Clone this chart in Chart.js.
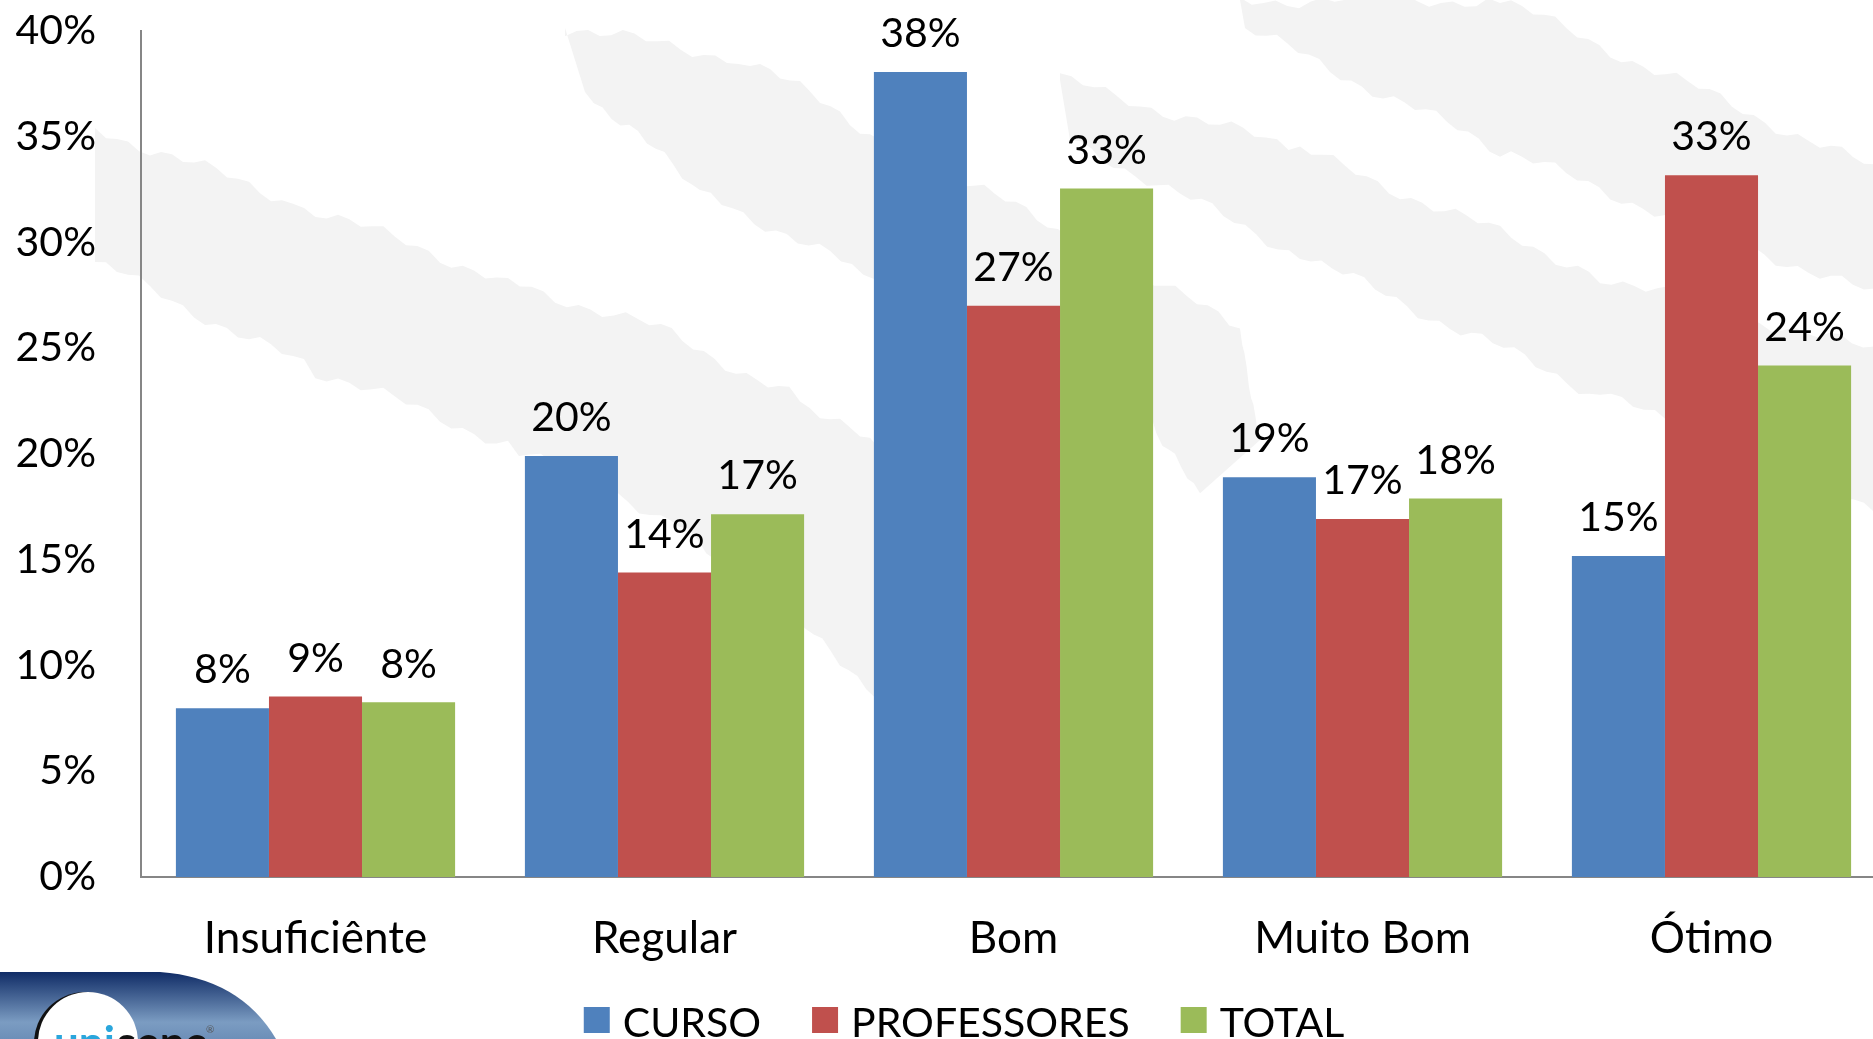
<!DOCTYPE html>
<html>
<head>
<meta charset="utf-8">
<script src="https://cdn.jsdelivr.net/npm/chart.js@4/dist/chart.umd.min.js"></script>
<style>
  html, body { margin: 0; padding: 0; background: #fff; overflow: hidden; }
  /* o gráfico original continua um pouco além da borda direita */
  #wrap { position: relative; width: 1886px; height: 1039px; }
</style>
</head>
<body>
<div id="wrap"><canvas id="grafico"></canvas></div>
<script>
// categorias e séries (valores em %)
const categorias = ["Insuficiênte", "Regular", "Bom", "Muito Bom", "Ótimo"];
const curso = [7.98, 19.9, 38.06, 18.9, 15.18];
const professores = [8.54, 14.4, 27.01, 16.93, 33.18];
const total = [8.26, 17.15, 32.55, 17.9, 24.19];
const nomesSeries = ["CURSO", "PROFESSORES", "TOTAL"];
const cores = ["#4F81BD", "#C0504D", "#9BBB59"];

const FONTE = "Lato";
const TAM = 41;
const TAM_CAT = 44;

// manchas do fundo (borda de cima e borda de baixo de cada faixa)
const manchas = [
  { cima: [[95,128],[304,206],[508,281],[661,330],[800,400],[880,450]],
    baixo: [[95,262],[304,366],[508,444],[661,515],[770,600],[875,690]] },
  { cima: [[565,28],[750,60],[900,150],[1100,250],[1240,330],[1260,440]],
    baixo: [[585,92],[700,190],[852,268],[1000,330],[1150,420],[1200,500]] },
  { cima: [[1060,80],[1300,150],[1600,275],[1886,355]],
    baixo: [[1070,140],[1300,255],[1600,395],[1886,510]] },
  { cima: [[1240,0],[1500,0],[1886,175]],
    baixo: [[1245,28],[1500,150],[1886,300]] }
];

function bordaIrregular(ctx, pts, fase) {
  for (let k = 0; k < pts.length - 1; k++) {
    const [x1, y1] = pts[k], [x2, y2] = pts[k + 1];
    const n = Math.max(2, Math.round(Math.hypot(x2 - x1, y2 - y1) / 12));
    for (let i = 0; i < n; i++) {
      const t = i / n;
      const j = Math.sin((k * n + i) * 1.7 + fase) * 4 + Math.sin((k * n + i) * 0.45 + fase) * 5;
      ctx.lineTo(x1 + (x2 - x1) * t, y1 + (y2 - y1) * t + j);
    }
  }
  const ult = pts[pts.length - 1];
  ctx.lineTo(ult[0], ult[1]);
}

// fundo: manchas cinza claras + logo no canto
const fundo = {
  id: "fundo",
  beforeDraw(chart) {
    const ctx = chart.ctx;
    ctx.save();
    ctx.fillStyle = "#fff";
    ctx.fillRect(0, 0, chart.width, chart.height);
    ctx.fillStyle = "#f3f3f3";
    manchas.forEach((m, idx) => {
      ctx.beginPath();
      ctx.moveTo(m.cima[0][0], m.cima[0][1]);
      bordaIrregular(ctx, m.cima, idx * 2);
      bordaIrregular(ctx, m.baixo.slice().reverse(), idx * 3 + 1);
      ctx.closePath();
      ctx.fill();
    });

    // logo
    const g = ctx.createLinearGradient(0, 972, 0, 1039);
    g.addColorStop(0, "#102c66");
    g.addColorStop(0.75, "#7b9cc2");
    g.addColorStop(1, "#6d8fb8");
    ctx.fillStyle = g;
    ctx.beginPath();
    ctx.moveTo(0, 972);
    ctx.lineTo(160, 972);
    ctx.quadraticCurveTo(240, 978, 276, 1039);
    ctx.lineTo(0, 1039);
    ctx.closePath();
    ctx.fill();
    ctx.fillStyle = "#111";
    ctx.beginPath();
    ctx.arc(85, 1043, 51, 0, Math.PI * 2);
    ctx.fill();
    ctx.fillStyle = "#fff";
    ctx.beginPath();
    ctx.arc(88, 1042, 50, 0, Math.PI * 2);
    ctx.fill();
    ctx.font = "bold 44px " + FONTE;
    ctx.textBaseline = "alphabetic";
    ctx.textAlign = "left";
    ctx.fillStyle = "#2aa6dc";
    ctx.fillText("uni", 54, 1058);
    const wUni = ctx.measureText("uni").width;
    ctx.fillStyle = "#111";
    ctx.fillText("sepe", 56 + wUni, 1058);
    ctx.font = "10px " + FONTE;
    ctx.fillStyle = "#555";
    ctx.fillText("®", 206, 1033);
    ctx.restore();
  }
};

// rótulos de dados acima das barras
const rotulos = {
  id: "rotulos",
  afterDatasetsDraw(chart) {
    const ctx = chart.ctx;
    ctx.save();
    ctx.font = TAM + "px " + FONTE;
    ctx.fillStyle = "#000";
    ctx.textAlign = "center";
    ctx.textBaseline = "middle";
    chart.data.datasets.forEach((ds, i) => {
      chart.getDatasetMeta(i).data.forEach((bar, j) => {
        ctx.fillText(Math.round(ds.data[j]) + "%", bar.x, bar.y - 38);
      });
    });
    ctx.restore();
  }
};

// legenda na parte inferior
const legenda = {
  id: "legenda",
  afterDraw(chart) {
    const ctx = chart.ctx;
    ctx.save();
    ctx.font = TAM + "px " + FONTE;
    const caixa = 26, gapTxt = 13, gapItem = 51;
    const itens = chart.data.datasets.map(ds => ({ t: ds.label, c: ds.backgroundColor, w: ctx.measureText(ds.label).width }));
    let largura = itens.reduce((s, it) => s + caixa + gapTxt + it.w, 0) + gapItem * (itens.length - 1);
    let x = 964 - largura / 2;
    ctx.textBaseline = "alphabetic";
    ctx.textAlign = "left";
    itens.forEach(it => {
      ctx.fillStyle = it.c;
      ctx.fillRect(x, 1007, caixa, caixa);
      ctx.fillStyle = "#000";
      ctx.fillText(it.t, x + caixa + gapTxt, 1037);
      x += caixa + gapTxt + it.w + gapItem;
    });
    ctx.restore();
  }
};

const semPadding = s => { s.paddingTop = 0; s.paddingBottom = 0; s.paddingLeft = 0; s.paddingRight = 0; };

new Chart(document.getElementById("grafico"), {
  type: "bar",
  data: {
    labels: categorias,
    datasets: [
      { label: nomesSeries[0], data: curso, backgroundColor: cores[0] },
      { label: nomesSeries[1], data: professores, backgroundColor: cores[1] },
      { label: nomesSeries[2], data: total, backgroundColor: cores[2] }
    ]
  },
  options: {
    responsive: true,
    maintainAspectRatio: false,
    animation: false,
    layout: { padding: { top: 31, right: 0, left: 0, bottom: 0 } },
    categoryPercentage: 0.8,
    barPercentage: 1,
    plugins: {
      legend: { display: false },
      tooltip: { enabled: false }
    },
    scales: {
      x: {
        grid: { display: false, drawTicks: false },
        border: { display: true, color: "#868686", width: 2 },
        ticks: { color: "#000", font: { family: FONTE, size: TAM_CAT }, padding: 35, maxRotation: 0 },
        afterFit(s) { s.height = 162; semPadding(s); }
      },
      y: {
        min: 0,
        max: 40,
        grid: { display: false, drawTicks: false },
        border: { display: true, color: "#868686", width: 2 },
        ticks: {
          stepSize: 5,
          color: "#000",
          font: { family: FONTE, size: TAM },
          padding: 45,
          callback: v => v + "%"
        },
        afterFit(s) { s.width = 141; semPadding(s); }
      }
    }
  },
  plugins: [fundo, rotulos, legenda]
});
</script>
</body>
</html>
